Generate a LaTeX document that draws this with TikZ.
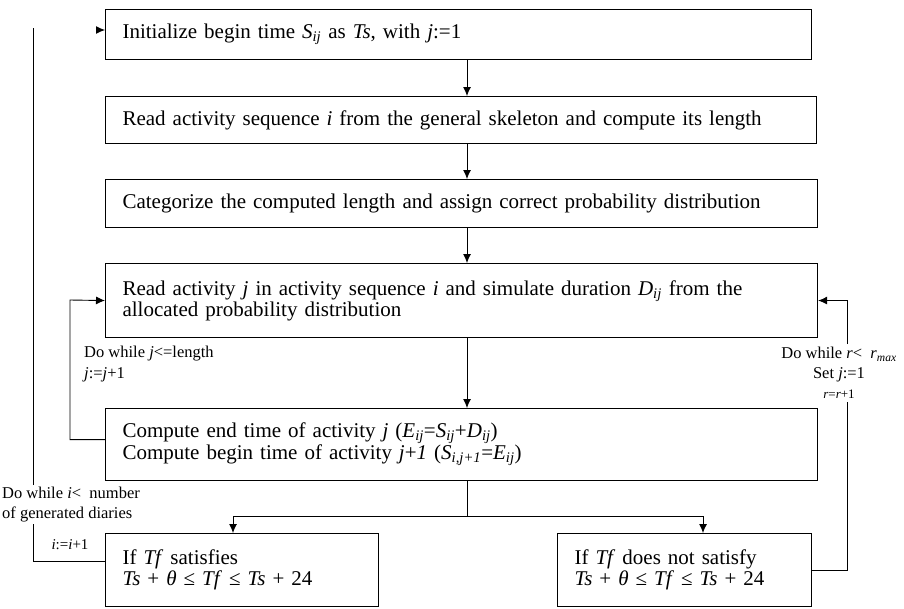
\documentclass[tikz,border=0pt]{standalone}
\usepackage{fontspec}
\setmainfont{Liberation Serif}
\usetikzlibrary{arrows.meta,calc}
\newcommand{\vi}[1]{\textit{#1}}
\newcommand{\sbi}[1]{\textsubscript{\textit{#1}}}
\tikzset{
  x=1pt,y=-1pt,
  box/.style={draw, line width=1.1pt, anchor=north west, align=left,
    inner xsep=17pt, inner ysep=0pt, font=\fontsize{21}{21}\selectfont},
  arr/.style={-{Latex[length=9pt,width=8pt]}, line width=0.9pt},
  ln/.style={line width=0.9pt},
  lbl/.style={inner sep=0pt, font=\fontsize{16.5}{21}\selectfont}
}
\begin{document}
\begin{tikzpicture}
\useasboundingbox (0,0) rectangle (904,608);
% boxes
\node[box, text width=672pt, minimum height=50pt] (b1) at (105,9)
  {Initialize begin time \vi{S}\sbi{ij} as \vi{Ts}, with \vi{j}:=1};
\node[box, text width=677pt, minimum height=47pt] (b2) at (105,96)
  {Read activity sequence \vi{i} from the general skeleton and compute its length};
\node[box, text width=678pt, minimum height=48pt] (b3) at (105,179)
  {Categorize the computed length and assign correct probability distribution};
\node[box, text width=678pt, minimum height=74pt] (b4) at (105,263)
  {Read activity \vi{j} in activity sequence \vi{i} and simulate duration \vi{D}\sbi{ij} from the\\allocated probability distribution\\[2pt]};
\node[box, text width=678pt, minimum height=72pt] (b5) at (105,408)
  {Compute end time of activity \vi{j} (\vi{E}\sbi{ij}=\vi{S}\sbi{ij}+\vi{D}\sbi{ij})\\Compute begin time of activity \vi{j}+\vi{1} (\vi{S}\sbi{i,j+1}=\vi{E}\sbi{ij})\\[2pt]};
\node[box, text width=239pt, minimum height=73pt] (b6) at (105,533)
  {If \vi{Tf} satisfies\\\vi{Ts} + \vi{θ} ≤ \vi{Tf} ≤ \vi{Ts} + 24\\[2pt]};
\node[box, text width=220pt, minimum height=73pt] (b7) at (557,533)
  {If \vi{Tf} does not satisfy\\\vi{Ts} + \vi{θ} ≤ \vi{Tf} ≤ \vi{Ts} + 24\\[2pt]};
% coordinates
\coordinate (ax) at (467,0);
\coordinate (sp) at (467,516);
\coordinate (sl) at (233,516);
\coordinate (sr) at (703,516);
\coordinate (jl) at (70,300);
\coordinate (rx) at (847,0);
\coordinate (ox) at (33,0);
\coordinate (ot) at (33,28);
\coordinate (oa) at (96,30);
% labels
\node[lbl, anchor=north west, align=left] (jlab) at (84,346)
  {Do while \vi{j}<=length\\\vi{j}:=\vi{j}+1};
\node[lbl, align=center, font=\fontsize{16.5}{20}\selectfont] (rlab) at (839,373)
  {Do while \vi{r}<\ \ \vi{r}\sbi{max}\\Set \vi{j}:=1\\{\fontsize{13}{16}\selectfont\vi{r}=\vi{r}+1}};
\node[lbl, anchor=north west, align=left, font=\fontsize{16.5}{20}\selectfont] (olab) at (2,487)
  {Do while \vi{i}<\ \ number\\of generated diaries};
\node[lbl, font=\fontsize{15}{18}\selectfont] (ilab) at (70,545) {\vi{i}:=\vi{i}+1};
% main flow
\draw[arr] (b1.south -| ax) -- (b2.north -| ax);
\draw[arr] (b2.south -| ax) -- (b3.north -| ax);
\draw[arr] (b3.south -| ax) -- (b4.north -| ax);
\draw[arr] (b4.south -| ax) -- (b5.north -| ax);
\draw[ln] (b5.south -| ax) -- (sp);
\draw[arr] (sp) -- (sl) -- (b6.north -| sl);
\draw[arr] (sp) -- (sr) -- (b7.north -| sr);
% inner loop
\draw[arr] ([yshift=5pt]b5.west) -| (jl) -- (b4.west);
% right loop
\draw[ln] (b7.east) -| ([yshift=-3pt]rlab.south -| rx);
\draw[arr] ([yshift=3pt]rlab.north -| rx) |- (b4.east);
% outer loop
\draw[ln] ([yshift=9pt]b6.west) -| ([yshift=-2pt]olab.south -| ox);
\draw[ln] ([yshift=2pt]olab.north -| ox) -- (ot);
\draw[arr] (oa) -- (b1.west |- oa);
\end{tikzpicture}
\end{document}
